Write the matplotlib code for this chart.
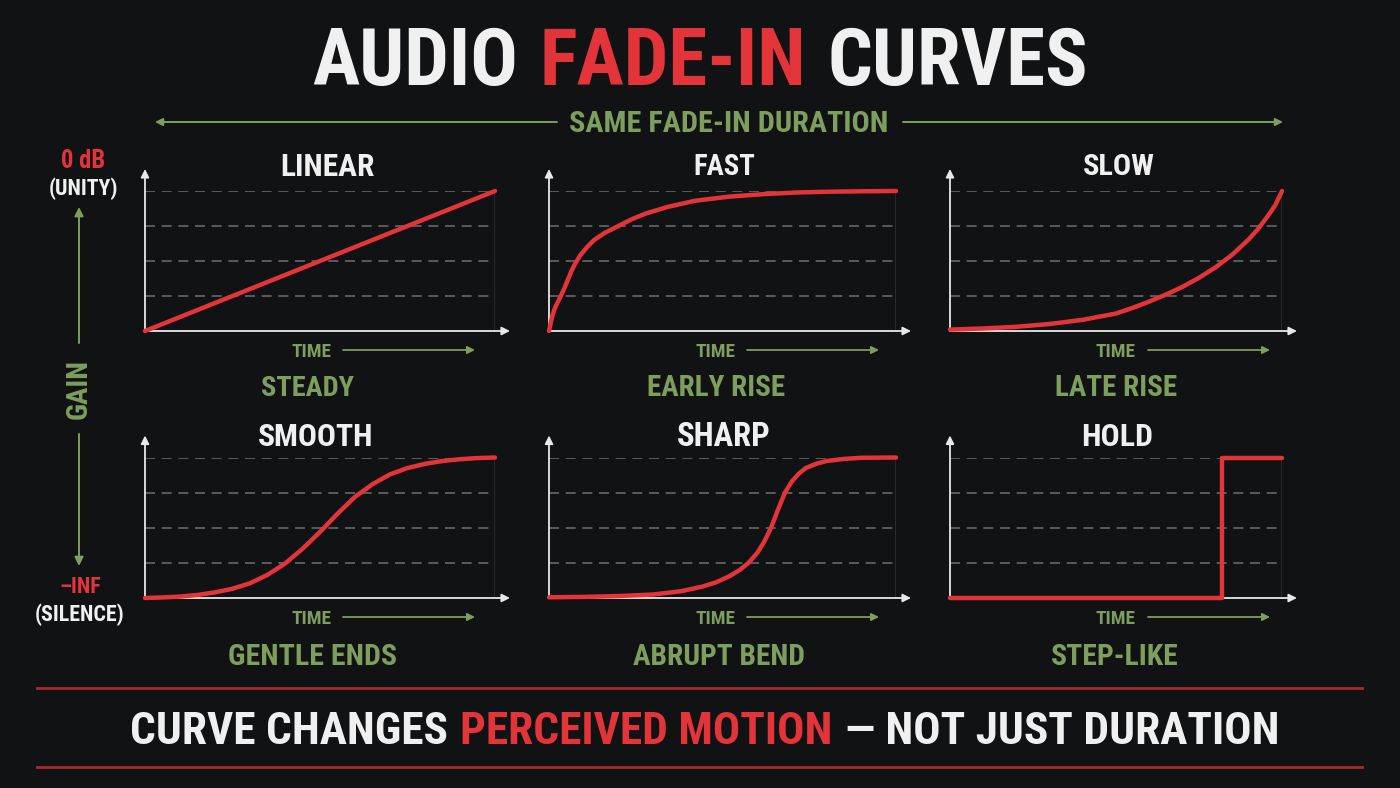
import matplotlib
matplotlib.use("Agg")
import matplotlib.pyplot as plt
from matplotlib import font_manager

# fade-in curves
# time: 0..1 of the fade length, gain: 0 = -inf (silence), 1 = 0 dB (unity)
linear_t = [0.0, 1.0]
linear_g = [0.0, 1.0]

fast_t = [0.0, 0.005, 0.01, 0.015, 0.02, 0.028, 0.036, 0.045, 0.055, 0.065, 0.075,
          0.09, 0.11, 0.13, 0.16, 0.20, 0.24, 0.28, 0.34, 0.42, 0.52, 0.62, 0.72,
          0.81, 0.90, 1.0]
fast_g = [0.0, 0.06, 0.11, 0.15, 0.18, 0.22, 0.26, 0.31, 0.37, 0.43, 0.48,
          0.54, 0.60, 0.65, 0.70, 0.75, 0.80, 0.84, 0.885, 0.93, 0.96, 0.978, 0.99,
          0.995, 0.998, 1.0]

slow_t = [0.0, 0.1, 0.2, 0.3, 0.4, 0.5, 0.55, 0.6, 0.65, 0.7, 0.75, 0.8, 0.85,
          0.9, 0.93, 0.96, 0.98, 1.0]
slow_g = [0.01, 0.018, 0.03, 0.05, 0.08, 0.125, 0.165, 0.21, 0.26, 0.315, 0.38,
          0.455, 0.545, 0.655, 0.735, 0.83, 0.90, 1.0]

smooth_t = [0.0, 0.05, 0.1, 0.15, 0.2, 0.25, 0.3, 0.35, 0.4, 0.45, 0.5, 0.55, 0.6,
            0.65, 0.7, 0.75, 0.8, 0.85, 0.9, 0.95, 1.0]
smooth_g = [0.0, 0.004, 0.01, 0.022, 0.04, 0.066, 0.105, 0.165, 0.245, 0.35, 0.47,
            0.60, 0.72, 0.81, 0.88, 0.925, 0.955, 0.975, 0.988, 0.996, 1.0]

sharp_t = [0.0, 0.1, 0.2, 0.3, 0.38, 0.44, 0.48, 0.52, 0.55, 0.575, 0.6, 0.62,
           0.64, 0.66, 0.68, 0.70, 0.72, 0.74, 0.77, 0.8, 0.85, 0.9, 1.0]
sharp_g = [0.005, 0.008, 0.014, 0.025, 0.048, 0.08, 0.11, 0.155, 0.20, 0.25, 0.32,
           0.40, 0.50, 0.63, 0.75, 0.83, 0.885, 0.925, 0.955, 0.975, 0.99, 0.998, 1.0]

hold_t = [0.0, 0.82, 0.82, 1.0]
hold_g = [0.0, 0.0, 1.0, 1.0]

names = ["LINEAR", "FAST", "SLOW", "SMOOTH", "SHARP", "HOLD"]
notes = ["STEADY", "EARLY RISE", "LATE RISE", "GENTLE ENDS", "ABRUPT BEND", "STEP-LIKE"]
curves = [(linear_t, linear_g), (fast_t, fast_g), (slow_t, slow_g),
          (smooth_t, smooth_g), (sharp_t, sharp_g), (hold_t, hold_g)]
grid_levels = [0.25, 0.5, 0.75, 1.0]

BG = "#111214"
RED = "#e3343a"
GREEN = "#7d9e5c"
WHITE = "#f0f0f0"

# pick the narrowest bold sans that is installed
entries = font_manager.fontManager.ttflist
have = {e.name for e in entries}
STRETCH = "normal"
if "Liberation Sans Narrow" in have:
    FAMILY = "Liberation Sans Narrow"
elif "Roboto Condensed" in have:
    FAMILY = "Roboto Condensed"
elif any(e.name == "DejaVu Sans" and e.stretch == "condensed" for e in entries):
    FAMILY, STRETCH = "DejaVu Sans", "condensed"
elif "Roboto" in have:
    FAMILY = "Roboto"
else:
    FAMILY = "DejaVu Sans"
plt.rcParams["font.family"] = [FAMILY, "DejaVu Sans"]
plt.rcParams["font.stretch"] = STRETCH

W, H = 1400, 788
fig = plt.figure(figsize=(14, 7.88), dpi=100, facecolor=BG)
over = fig.add_axes([0, 0, 1, 1])
over.set_xlim(0, W)
over.set_ylim(H, 0)
over.axis("off")
rend = fig.canvas.get_renderer()


def label(x, yc, s, color, size, width=None):
    # yc is the vertical centre of the capitals, in pixels
    t = over.text(x, yc, s, color=color, fontsize=size, fontweight="bold",
                  ha="center", va="baseline")
    if width:
        w = t.get_window_extent(rend).width
        if w > width:
            size = size * width / w
            t.set_fontsize(size)
    t.set_y(yc + size * 0.48)
    return t


def multi(xc, yc, parts, size, width=None):
    ts = [over.text(0, 0, s, color=c, fontsize=size, fontweight="bold",
                    ha="left", va="baseline") for s, c in parts]

    def measure(sz):
        for t in ts:
            t.set_fontsize(sz)
        ws = [t.get_window_extent(rend).width for t in ts]
        gap = sz * 1.389 * 0.27
        return ws, gap, sum(ws) + gap * (len(ts) - 1)

    ws, gap, total = measure(size)
    if width and total > width:
        size = size * width / total
        ws, gap, total = measure(size)
    x = xc - total / 2
    for t, w in zip(ts, ws):
        t.set_position((x, yc + size * 0.48))
        x += w + gap


def arrow(x0, y0, x1, y1, color, lw=1.4, ms=12, ax=None):
    (ax or over).annotate("", xy=(x1, y1), xytext=(x0, y0), annotation_clip=False,
                          arrowprops=dict(arrowstyle="-|>", color=color, lw=lw,
                                          mutation_scale=ms, shrinkA=0, shrinkB=0))


# title and duration banner
multi(700, 58, [("AUDIO", WHITE), ("FADE-IN", RED), ("CURVES", WHITE)], 66, width=775)
multi(729, 122, [("SAME FADE-IN DURATION", GREEN)], 22, width=318)
arrow(557, 122, 155, 122, GREEN, lw=1.4, ms=11)
arrow(903, 122, 1283, 122, GREEN, lw=1.4, ms=11)

# gain scale on the left
label(83, 160, "0 dB", RED, 18, width=44)
label(83, 187, "(UNITY)", WHITE, 16, width=70)
arrow(79, 343, 79, 207, GREEN, lw=1.4, ms=13)
gain = over.text(79, 389, "GAIN", color=GREEN, fontsize=21, fontweight="bold",
                 rotation=90, ha="center", va="center")
gh = gain.get_window_extent(rend).height
if gh > 64:
    gain.set_fontsize(21 * 64 / gh)
arrow(79, 434, 79, 566, GREEN, lw=1.4, ms=13)
label(80, 585, "\u2013INF", RED, 18, width=42)
label(80, 613, "(SILENCE)", WHITE, 16, width=90)

# panel boxes in pixels: left, right
cols = [(145, 495), (549, 896), (950, 1282)]
rows = [dict(top=191, base=331, title=165, time=350, note=386),
        dict(top=457.5, base=598, title=435, time=617, note=655)]
title_x = [327, 724, 1119, 316, 724, 1117]
title_w = [95, 62, 72, 116, 94, 72]
note_x = [308, 716, 1116, 312, 719, 1115]
note_w = [93, 138, 122, 168, 172, 127]

for i, (t, g) in enumerate(curves):
    row = rows[i // 3]
    left, right = cols[i % 3]
    w = right - left
    h = row["base"] - row["top"]
    ax = fig.add_axes([left / W, (H - row["base"]) / H, w / W, h / H])
    ax.set_xlim(0, 1)
    ax.set_ylim(0, 1)
    ax.axis("off")
    for lev in grid_levels:
        ax.axhline(lev, color="#66676a", lw=1.2, ls=(0, (6, 4)), zorder=1)
    ax.axvline(1, color="#8a8b8e", lw=1.0, zorder=1)
    arrow(0, 0, 0, 1 + 22 / h, "#e8e8e8", lw=1.3, ms=12, ax=ax)
    arrow(0, 0, 1 + 15 / w, 0, "#e8e8e8", lw=1.3, ms=12, ax=ax)
    ax.plot(t, g, color=RED, lw=3.2, solid_capstyle="round",
            solid_joinstyle="round", clip_on=False, zorder=5)

    label(title_x[i], row["title"], names[i], WHITE, 25, width=title_w[i])
    label(left + 166, row["time"], "TIME", GREEN, 15, width=40)
    arrow(left + 198, row["time"], left + min(330, w - 12), row["time"], GREEN, lw=1.3, ms=11)
    label(note_x[i], row["note"], notes[i], GREEN, 22, width=note_w[i])

# bottom message between two red rules
over.plot([37, 1362], [688, 688], color="#a52a2c", lw=2)
over.plot([37, 1362], [767, 767], color="#a52a2c", lw=2)
multi(705, 728, [("CURVE CHANGES", WHITE), ("PERCEIVED MOTION", RED),
                 ("\u2014 NOT JUST DURATION", WHITE)], 34, width=1150)

fig.savefig("out.png", dpi=100, facecolor=BG)
